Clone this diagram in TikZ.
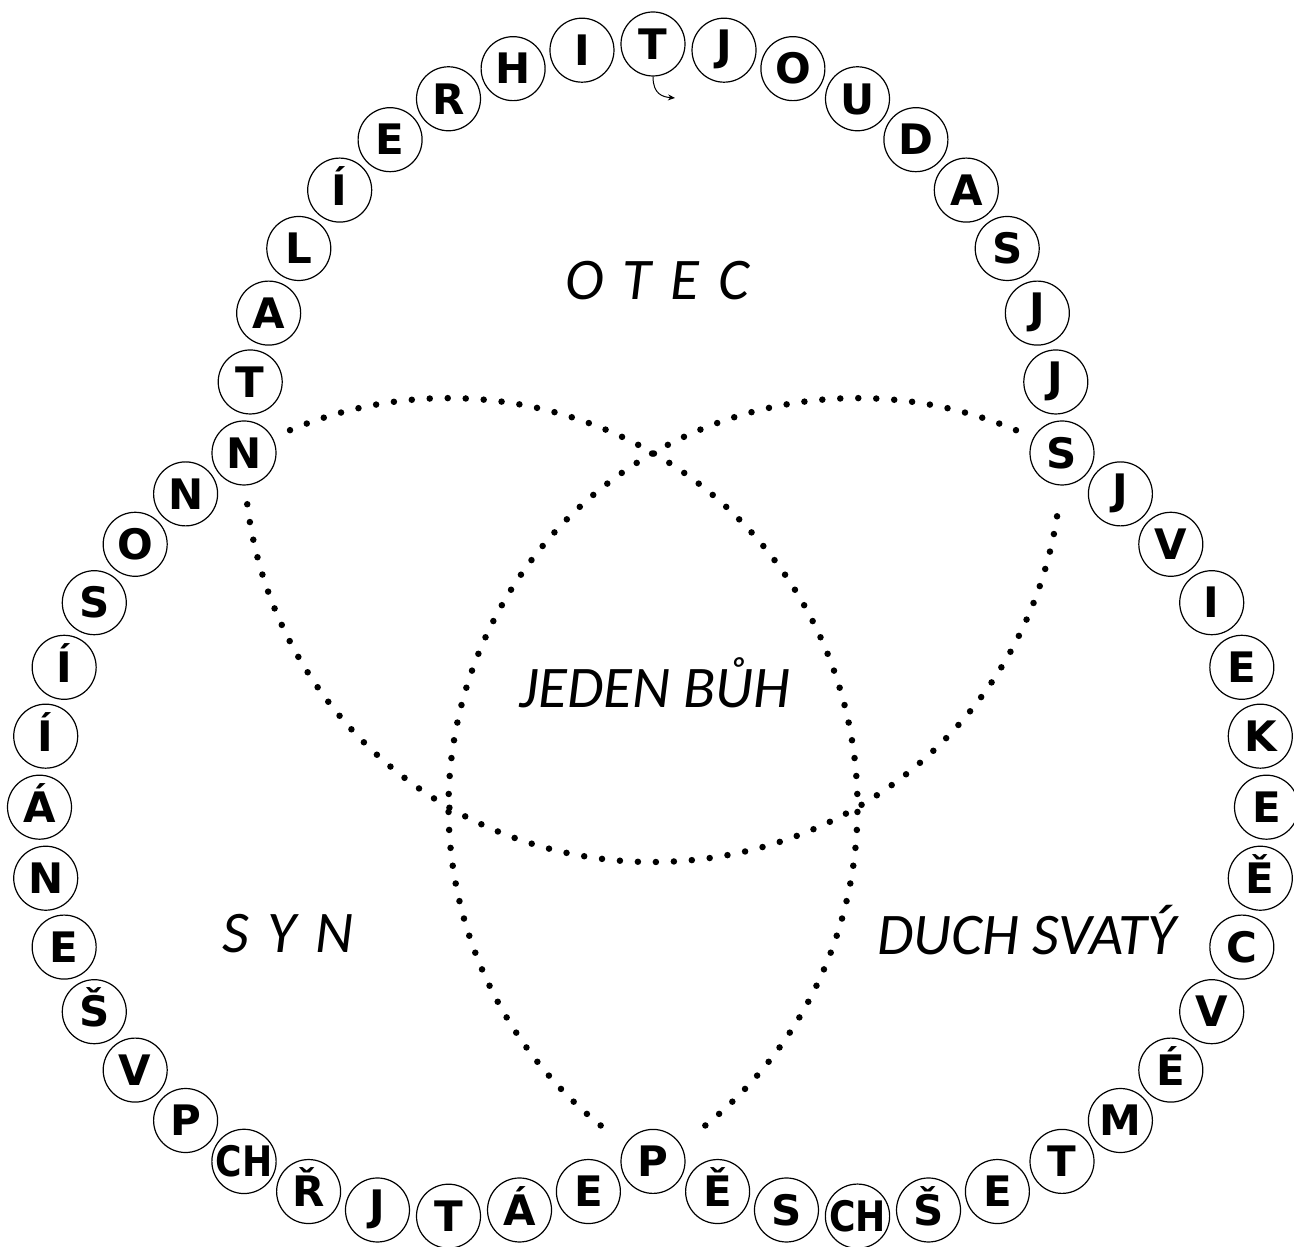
\documentclass[tikz,border=0pt]{standalone}
\usepackage{fontspec}
\usepackage{graphicx}
\usetikzlibrary{calc,arrows.meta}
\newfontfamily\letterfont{DejaVu Sans}[Scale=1]
\newfontfamily\labelfont{Carlito}
\newcommand\chlig{\scalebox{0.86}[1]{CH}}
\newcommand\jlet{\raisebox{5pt}{J}}
\begin{document}
\begin{tikzpicture}[x=1pt,y=1pt,
  letter/.style={circle,draw,line width=1.2pt,minimum size=64pt,inner sep=0pt,
    font=\letterfont\bfseries\fontsize{42}{44}\selectfont,text height=30.6pt,text depth=0pt},
  dotline/.style={line width=6.5pt,line cap=round,dash pattern=on 0pt off 18pt},
  label/.style={inner sep=0pt,font=\labelfont\itshape\fontsize{59}{62}\selectfont,
    text height=38pt,text depth=0pt}]
\fill[white] (0,0) rectangle (1294,1247);
\useasboundingbox (0,0) rectangle (1294,1247);
\def\R{409}
\coordinate (cC) at (653,794);
\coordinate (cA) at ($(cC)+(240:\R)$);
\coordinate (cB) at ($(cC)+(300:\R)$);
% dotted arcs
\draw[dotline] ($(cC)+(187.2:\R)$) arc[start angle=187.2,end angle=352.8,radius=\R];
\draw[dotline] ($(cA)+(112.8:\R)$) arc[start angle=112.8,end angle=-52.8,radius=\R];
\draw[dotline] ($(cB)+(67.2:\R)$) arc[start angle=67.2,end angle=232.8,radius=\R];
% top arc letters (circle C, 180 -> 0)
\foreach \l [count=\i] in {N,T,A,L,Í,E,R,H,I,T,{\jlet},O,U,D,A,S,{\jlet},{\jlet},S}
  \node[letter] (c\i) at ($(cC)+({190-10*\i}:\R)$) {\l};
% left arc letters (circle A, 130 -> 290)
\foreach \l [count=\i] in {N,O,S,Í,Í,Á,N,E,Š,V,P,{\chlig},Ř,{\jlet},T,Á,E}
  \node[letter] (a\i) at ($(cA)+({120+10*\i}:\R)$) {\l};
\node[letter] (p) at ($(cA)+(300:\R)$) {P};
% right arc letters (circle B, 50 -> -110)
\foreach \l [count=\i] in {{\jlet},V,I,E,K,E,Ě,C,V,É,M,T,E,Š,{\chlig},S,Ě}
  \node[letter] (b\i) at ($(cB)+({60-10*\i}:\R)$) {\l};
% small arrow under top T
\coordinate (arrowend) at (675,1149);
\draw[line width=1pt,-{Stealth[length=7pt,width=6pt]}] (c10.south) .. controls +(0,-18) and +(-12,1) .. (arrowend);
% labels
\node[label] (otec) at (657,966) {O\hspace{19pt}T\hspace{19pt}E\hspace{19pt}C};
\node[label] (buh) at (655,558) {JEDEN BŮH};
\node[label] (syn) at (288,313) {S\hspace{19pt}Y\hspace{19pt}N};
\node[label] (duch) at (1027,311) {DUCH SVATÝ};
\end{tikzpicture}
\end{document}
